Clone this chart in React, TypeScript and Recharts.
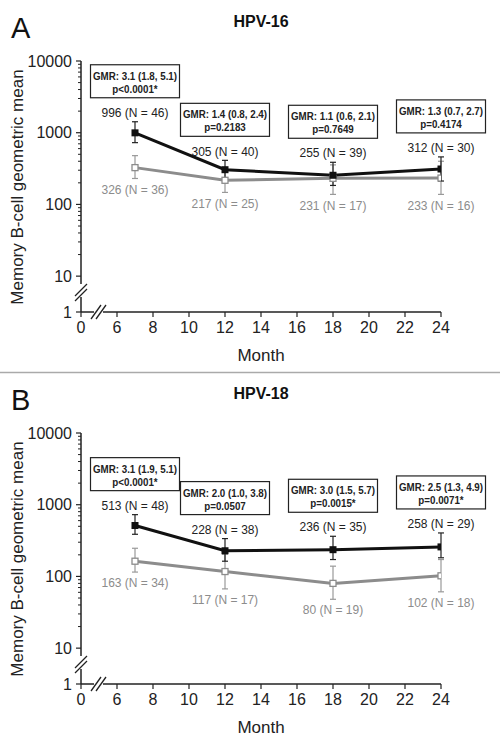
import React from "react"
import { ComposedChart, Line, XAxis, YAxis, ErrorBar, LabelList } from "recharts"

// months sampled (x axis is broken between 0 and 6)
const months = [7, 12, 18, 24]
const xTicks = [4, 6, 8, 10, 12, 14, 16, 18, 20, 22, 24]
const xTickLabels = ["0", "6", "8", "10", "12", "14", "16", "18", "20", "22", "24"]

// y axis: log scale with a break between 1 and 10
const yMajor = [1, 10, 100, 1000, 10000]
const yMajorLabels = ["1", "10", "100", "1000", "10000"]
const yMinor = [20, 30, 40, 50, 60, 70, 80, 90, 200, 300, 400, 500, 600, 700, 800, 900, 2000, 3000, 4000, 5000, 6000, 7000, 8000, 9000]

// HPV-16
const hpv16BlackGm = [996, 305, 255, 312]
const hpv16BlackN = [46, 40, 39, 30]
const hpv16BlackLo = [727, 225, 184, 212]
const hpv16BlackHi = [1422, 412, 387, 460]
const hpv16GrayGm = [326, 217, 231, 233]
const hpv16GrayN = [36, 25, 17, 16]
const hpv16GrayLo = [230, 147, 138, 138]
const hpv16GrayHi = [479, 320, 356, 400]
const hpv16Gmr = ["GMR: 3.1 (1.8, 5.1)", "GMR: 1.4 (0.8, 2.4)", "GMR: 1.1 (0.6, 2.1)", "GMR: 1.3 (0.7, 2.7)"]
const hpv16P = ["p<0.0001*", "p=0.2183", "p=0.7649", "p=0.4174"]

// HPV-18
const hpv18BlackGm = [513, 228, 236, 258]
const hpv18BlackN = [48, 38, 35, 29]
const hpv18BlackLo = [387, 163, 172, 182]
const hpv18BlackHi = [727, 337, 363, 404]
const hpv18GrayGm = [163, 117, 80, 102]
const hpv18GrayN = [34, 17, 19, 18]
const hpv18GrayLo = [115, 67, 48, 61]
const hpv18GrayHi = [247, 204, 139, 172]
const hpv18Gmr = ["GMR: 3.1 (1.9, 5.1)", "GMR: 2.0 (1.0, 3.8)", "GMR: 3.0 (1.5, 5.7)", "GMR: 2.5 (1.3, 4.9)"]
const hpv18P = ["p<0.0001*", "p=0.0507", "p=0.0015*", "p=0.0071*"]

const FONT = "'Liberation Sans', Arial, Helvetica, sans-serif"
const INK = "#222"
const GRAY = "#8c8c8c"

// 1..10 squeezed into half a decade, log10 above that
const toAxis = (v: number) => (v >= 10 ? Math.log10(v) : 0.5 + 0.5 * Math.log10(v))

const yTicks = [...yMajor, ...yMinor].map(toAxis)

type PanelData = {
  blackGm: number[]
  blackN: number[]
  blackLo: number[]
  blackHi: number[]
  grayGm: number[]
  grayN: number[]
  grayLo: number[]
  grayHi: number[]
  gmr: string[]
  p: string[]
}

function buildRows(d: PanelData) {
  return months.map((m, i) => {
    const b = toAxis(d.blackGm[i])
    const g = toAxis(d.grayGm[i])
    return {
      month: m,
      black: b,
      blackErr: [b - toAxis(d.blackLo[i]), toAxis(d.blackHi[i]) - b],
      blackTop: toAxis(d.blackHi[i]),
      gray: g,
      grayErr: [g - toAxis(d.grayLo[i]), toAxis(d.grayHi[i]) - g],
      grayBottom: toAxis(d.grayLo[i]),
    }
  })
}

function YTick(props: any) {
  const { x, y, payload } = props
  const axisX = x + 9
  const idx = yMajor.findIndex((m) => Math.abs(toAxis(m) - payload.value) < 1e-6)
  if (idx < 0) {
    return <line x1={axisX - 3} x2={axisX} y1={y} y2={y} stroke={INK} strokeWidth={1} />
  }
  return (
    <g>
      <line x1={axisX - 5} x2={axisX} y1={y} y2={y} stroke={INK} strokeWidth={1.2} />
      <text x={x} y={y} dy="0.36em" textAnchor="end" fontSize={16} fill={INK} fontFamily={FONT}>
        {yMajorLabels[idx]}
      </text>
    </g>
  )
}

const blackDot = (p: any) => (
  <rect key={`bd${p.index}`} x={p.cx - 3.5} y={p.cy - 3.5} width={7} height={7} fill="#111" />
)
const grayDot = (p: any) => (
  <rect key={`gd${p.index}`} x={p.cx - 3} y={p.cy - 3} width={6} height={6} fill="#fff" stroke={GRAY} strokeWidth={1.3} />
)

function Panel({ data, height }: { data: PanelData; height: number }) {
  const rows = buildRows(data)

  const topLabel = (props: any) => {
    const { x, y, index } = props
    const boxBottom = y - 24
    const boxTop = boxBottom - 33
    return (
      <g key={`top${index}`}>
        <text x={x} y={y - 9} dy="0.35em" textAnchor="middle" fontSize={12} fill={INK} fontFamily={FONT}>
          {`${data.blackGm[index]} (N = ${data.blackN[index]})`}
        </text>
        <rect x={x - 44.5} y={boxTop} width={89} height={33} fill="#fff" stroke={INK} strokeWidth={1.2} />
        <text
          transform={`translate(${x},${boxTop + 11}) scale(0.85,1)`}
          dy="0.35em"
          textAnchor="middle"
          fontSize={11.5}
          fontWeight="bold"
          fill={INK}
          fontFamily={FONT}
        >
          {data.gmr[index]}
        </text>
        <text
          transform={`translate(${x},${boxTop + 24}) scale(0.85,1)`}
          dy="0.35em"
          textAnchor="middle"
          fontSize={11.5}
          fontWeight="bold"
          fill={INK}
          fontFamily={FONT}
        >
          {data.p[index]}
        </text>
      </g>
    )
  }

  const bottomLabel = (props: any) => {
    const { x, y, index } = props
    return (
      <text key={`bot${index}`} x={x} y={y + 11} dy="0.35em" textAnchor="middle" fontSize={12} fill={GRAY} fontFamily={FONT}>
        {`${data.grayGm[index]} (N = ${data.grayN[index]})`}
      </text>
    )
  }

  return (
    <ComposedChart
      width={500}
      height={height}
      data={rows}
      margin={{ top: 61, right: 59, bottom: height - 342, left: 21 }}
      style={{ fontFamily: FONT }}
    >
      <XAxis
        type="number"
        dataKey="month"
        domain={[4, 24]}
        ticks={xTicks}
        interval={0}
        allowDataOverflow
        tickFormatter={(v: number) => xTickLabels[xTicks.indexOf(v)]}
        height={30}
        tickSize={5}
        tickMargin={5}
        stroke={INK}
        axisLine={{ stroke: INK, strokeWidth: 1.5 }}
        tickLine={{ stroke: INK, strokeWidth: 1.2 }}
        tick={{ fill: INK, fontSize: 16, fontFamily: FONT }}
      />
      <YAxis
        type="number"
        domain={[0.5, 4]}
        ticks={yTicks}
        interval={0}
        allowDataOverflow
        width={60}
        tickSize={5}
        tickMargin={4}
        tickLine={false}
        axisLine={{ stroke: INK, strokeWidth: 1.5 }}
        tick={<YTick />}
      />
      <Line
        dataKey="gray"
        stroke={GRAY}
        strokeWidth={3}
        dot={grayDot}
        activeDot={false}
        isAnimationActive={false}
      >
        <ErrorBar dataKey="grayErr" direction="y" width={3} stroke="#999" strokeWidth={1.2} />
      </Line>
      <Line
        dataKey="black"
        stroke="#111"
        strokeWidth={3}
        dot={blackDot}
        activeDot={false}
        isAnimationActive={false}
      >
        <ErrorBar dataKey="blackErr" direction="y" width={3} stroke={INK} strokeWidth={1.2} />
      </Line>
      <Line dataKey="blackTop" stroke="none" dot={false} activeDot={false} isAnimationActive={false}>
        <LabelList dataKey="blackTop" content={topLabel} />
      </Line>
      <Line dataKey="grayBottom" stroke="none" dot={false} activeDot={false} isAnimationActive={false}>
        <LabelList dataKey="grayBottom" content={bottomLabel} />
      </Line>
    </ComposedChart>
  )
}

function Decor({ letter, title, height, separator }: { letter: string; title: string; height: number; separator?: boolean }) {
  return (
    <svg width={500} height={height} style={{ position: "absolute", left: 0, top: 0, pointerEvents: "none" }}>
      <text x={11} y={38} fontSize={29} fill="#111" fontFamily={FONT}>
        {letter}
      </text>
      <text x={261} y={27} textAnchor="middle" fontSize={16} fontWeight="bold" fill="#111" fontFamily={FONT}>
        {title}
      </text>
      <text transform="translate(23,187) rotate(-90)" textAnchor="middle" fontSize={17} fill={INK} fontFamily={FONT}>
        Memory B-cell geometric mean
      </text>
      <text x={261} y={361} textAnchor="middle" fontSize={17} fill={INK} fontFamily={FONT}>
        Month
      </text>
      {/* y axis break */}
      <rect x={78} y={284} width={6} height={13} fill="#fff" />
      <line x1={75} y1={301} x2={87} y2={289} stroke={INK} strokeWidth={1.3} />
      <line x1={75} y1={296} x2={87} y2={284} stroke={INK} strokeWidth={1.3} />
      {/* x axis break */}
      <rect x={94} y={309} width={9} height={6} fill="#fff" />
      <line x1={91} y1={319} x2={101} y2={305} stroke={INK} strokeWidth={1.3} />
      <line x1={96} y1={319} x2={106} y2={305} stroke={INK} strokeWidth={1.3} />
      {separator && <line x1={0} x2={500} y1={372.5} y2={372.5} stroke="#aaa" strokeWidth={1.5} />}
    </svg>
  )
}

const hpv16: PanelData = {
  blackGm: hpv16BlackGm,
  blackN: hpv16BlackN,
  blackLo: hpv16BlackLo,
  blackHi: hpv16BlackHi,
  grayGm: hpv16GrayGm,
  grayN: hpv16GrayN,
  grayLo: hpv16GrayLo,
  grayHi: hpv16GrayHi,
  gmr: hpv16Gmr,
  p: hpv16P,
}

const hpv18: PanelData = {
  blackGm: hpv18BlackGm,
  blackN: hpv18BlackN,
  blackLo: hpv18BlackLo,
  blackHi: hpv18BlackHi,
  grayGm: hpv18GrayGm,
  grayN: hpv18GrayN,
  grayLo: hpv18GrayLo,
  grayHi: hpv18GrayHi,
  gmr: hpv18Gmr,
  p: hpv18P,
}

export default function App() {
  return (
    <div style={{ position: "absolute", left: 0, top: 0, width: 500, height: 747, background: "#fff", fontFamily: FONT }}>
      <div style={{ position: "absolute", left: 0, top: 0, width: 500, height: 372 }}>
        <Panel data={hpv16} height={372} />
        <Decor letter="A" title="HPV-16" height={374} separator />
      </div>
      <div style={{ position: "absolute", left: 0, top: 372, width: 500, height: 375 }}>
        <Panel data={hpv18} height={375} />
        <Decor letter="B" title="HPV-18" height={375} />
      </div>
    </div>
  )
}
